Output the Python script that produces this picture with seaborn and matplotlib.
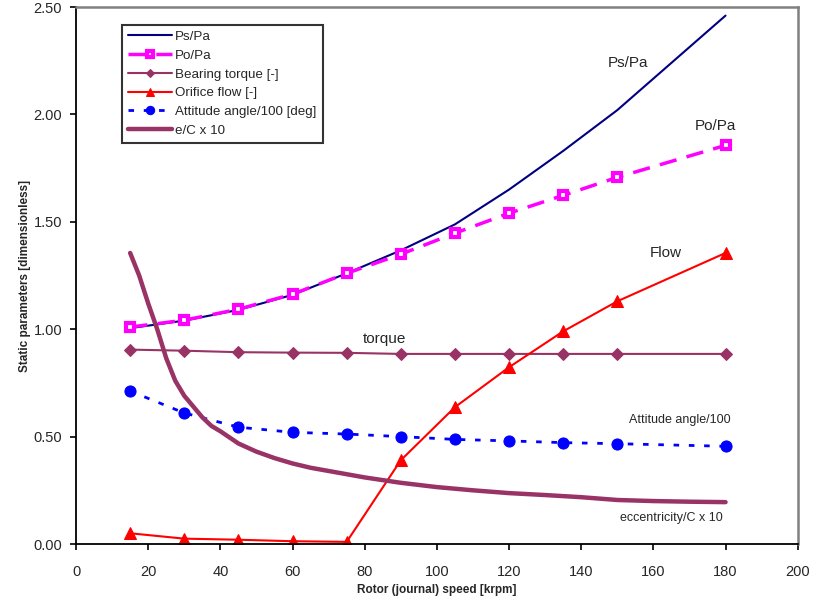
import matplotlib
matplotlib.use("Agg")
import matplotlib.pyplot as plt
import seaborn as sns

# data
speed = [15, 30, 45, 60, 75, 90, 105, 120, 135, 150, 180]
ps_pa = [1.005, 1.04, 1.09, 1.16, 1.26, 1.367, 1.488, 1.65, 1.83, 2.02, 2.46]
po_pa = [1.01, 1.042, 1.093, 1.163, 1.26, 1.349, 1.447, 1.54, 1.623, 1.707, 1.856]
torque = [0.905, 0.90, 0.893, 0.891, 0.89, 0.885, 0.885, 0.885, 0.885, 0.885, 0.885]
flow = [0.05, 0.025, 0.02, 0.013, 0.01, 0.39, 0.637, 0.823, 0.99, 1.13, 1.355]
attitude = [0.712, 0.61, 0.544, 0.52, 0.512, 0.5, 0.487, 0.48, 0.472, 0.467, 0.455]

ecc_speed = [15, 17.5, 20, 22.5, 25, 27.5, 30, 32.5, 35, 37.5, 40, 45, 50, 55, 60,
             65, 70, 75, 80, 90, 100, 110, 120, 130, 140, 150, 160, 170, 180]
ecc = [1.355, 1.25, 1.12, 1.00, 0.865, 0.76, 0.69, 0.64, 0.59, 0.55, 0.525, 0.468,
       0.43, 0.40, 0.375, 0.355, 0.34, 0.325, 0.31, 0.285, 0.265, 0.25, 0.237,
       0.228, 0.218, 0.205, 0.2, 0.197, 0.195]

sns.set_style("white")
plt.rcParams['font.family'] = ['Liberation Sans', 'DejaVu Sans']

fig = plt.figure(figsize=(8.14, 6.09), dpi=100)
ax = fig.add_axes([0.0934, 0.1067, 0.8866, 0.8818])

plum = '#993366'

sns.lineplot(x=speed, y=ps_pa, ax=ax, color='#000080', linewidth=1.5, label='Ps/Pa')
sns.lineplot(x=speed, y=po_pa, ax=ax, color='#FF00FF', linewidth=2.5, linestyle=(0, (5, 3)),
             marker='s', markersize=6, markerfacecolor='white', markeredgecolor='#FF00FF',
             markeredgewidth=3, label='Po/Pa')
sns.lineplot(x=speed, y=torque, ax=ax, color=plum, linewidth=1.5,
             marker='D', markersize=6, markeredgecolor=plum, label='Bearing torque [-]')
sns.lineplot(x=speed, y=flow, ax=ax, color='#FF0000', linewidth=1.5,
             marker='^', markersize=8, markeredgecolor='#FF0000', label='Orifice flow [-]')
sns.lineplot(x=speed, y=attitude, ax=ax, color='#0000FF', linewidth=2, linestyle=(0, (2, 3.5)),
             marker='o', markersize=8, markeredgecolor='#0000FF', label='Attitude angle/100 [deg]')
sns.lineplot(x=ecc_speed, y=ecc, ax=ax, color=plum, linewidth=3.2, label='e/C x 10')

ax.set_xlim(0, 200)
ax.set_ylim(0, 2.5)
ax.set_xticks(range(0, 201, 20))
ax.set_yticks([0, 0.5, 1.0, 1.5, 2.0, 2.5])
ax.set_yticklabels(['%.2f' % v for v in [0, 0.5, 1.0, 1.5, 2.0, 2.5]])
ax.tick_params(axis='both', direction='out', length=4, width=1.2, color='black',
               labelsize=10.5, left=True, bottom=True)
ax.tick_params(axis='x', pad=11)
ax.tick_params(axis='y', pad=6)

for s in ['left', 'bottom']:
    ax.spines[s].set_color('black')
    ax.spines[s].set_linewidth(1.3)
for s in ['top', 'right']:
    ax.spines[s].set_color('#808080')
    ax.spines[s].set_linewidth(1.8)

ax.set_xlabel('Rotor (journal) speed [krpm]', fontsize=8.5, fontweight='bold', labelpad=4)
ax.set_ylabel('Static parameters [dimensionless]', fontsize=8.5, fontweight='bold', labelpad=2)

# curve labels
ax.text(153, 2.237, 'Ps/Pa', fontsize=11, ha='center', va='center')
ax.text(177.3, 1.944, 'Po/Pa', fontsize=11, ha='center', va='center')
ax.text(163.5, 1.353, 'Flow', fontsize=11, ha='center', va='center')
ax.text(85.6, 0.953, 'torque', fontsize=11, ha='center', va='center')
ax.text(167.3, 0.577, 'Attitude angle/100', fontsize=9, ha='center', va='center')
ax.text(165, 0.121, 'eccentricity/C x 10', fontsize=9, ha='center', va='center')

leg = ax.legend(loc='upper left', bbox_to_anchor=(0.0637, 0.967), borderaxespad=0,
                fontsize=9.6, frameon=True, fancybox=False, handlelength=3.3,
                handletextpad=0.25, labelspacing=0.48, borderpad=0.45, markerscale=0.75)
leg.get_frame().set_edgecolor('black')
leg.get_frame().set_linewidth(1.5)

fig.savefig('out.png', dpi=100)
